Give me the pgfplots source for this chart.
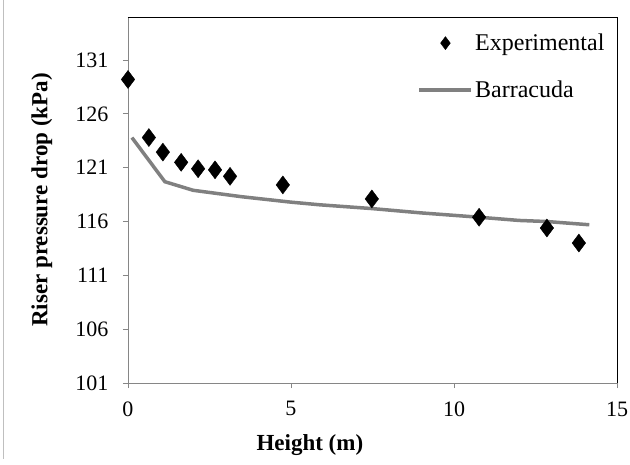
\documentclass[border=0pt]{standalone}
\usepackage{pgfplots}
\pgfplotsset{compat=1.18}
\usepackage{fontspec}
\setmainfont{Liberation Serif}
\definecolor{linegray}{RGB}{128,128,128}
\definecolor{axgray}{RGB}{134,134,134}
\begin{document}
\begin{tikzpicture}
\useasboundingbox (0,0) rectangle (630pt,464pt);
\draw[black!25, line width=0.8pt] (3pt,5pt) -- (3pt,464pt);
\begin{axis}[
  at={(128pt,81pt)}, anchor=south west,
  scale only axis, width=489pt, height=366pt,
  xmin=0, xmax=15, ymin=101, ymax=135,
  xtick={0,5,10,15}, ytick={101,106,111,116,121,126,131},
  axis x line*=bottom, axis y line*=left,
  axis line style={axgray, line width=0.8pt},
  every axis x line/.append style={-}, every axis y line/.append style={-},
  tick align=outside, major tick length=5pt,
  tick style={axgray, line width=0.8pt},
  /pgf/number format/assume math mode=true,
  xticklabel style={font=\fontsize{22}{26}\selectfont, yshift=-10pt},
  yticklabel style={font=\fontsize{22}{26}\selectfont, anchor=east, xshift=-11pt},
  xlabel={\textbf{Height (m)}},
  ylabel={\textbf{Riser pressure drop (kPa)}},
  label style={font=\fontsize{23}{27}\selectfont},
  xlabel style={at={(axis description cs:0.372,-0.169)}, anchor=center},
  ylabel style={at={(axis description cs:-0.176,0.5)}, anchor=center},
  legend style={draw=none, fill=none, at={(rel axis cs:0.985,0.965)}, anchor=north east,
    font=\fontsize{24}{28}\selectfont, row sep=25pt, legend cell align=left},
  clip=false,
]
\addplot[only marks, mark=diamond*, mark size=9pt, black,
  legend image code/.code={\path[draw=none] plot[mark=diamond*, mark size=6.5pt] coordinates {(26pt,0pt)}; \path[draw=none,fill=none] (0pt,0pt) -- (52pt,0pt);}] coordinates {
(0,129.2) (0.64,123.8) (1.07,122.45) (1.63,121.5) (2.15,120.9) (2.67,120.8)
(3.13,120.2) (4.75,119.4) (7.48,118.1) (10.77,116.4) (12.85,115.4) (13.83,114.0)
};
\addlegendentry{Experimental}
\addplot[linegray, line width=3.5pt, no marks,
  legend image code/.code={\draw[linegray, line width=3.5pt] (0pt,0pt) -- (52pt,0pt);}] coordinates {
(0.12,123.8) (1.13,119.7) (2.0,118.9) (3.5,118.3) (5.0,117.8) (5.9,117.55) (7.5,117.2)
(9.0,116.8) (10.77,116.4) (12.0,116.1) (12.85,116.0) (14.15,115.7)
};
\addlegendentry{Barracuda}
\draw[black, line width=0.8pt] (rel axis cs:0,1) -- (rel axis cs:1,1) -- (rel axis cs:1,0);
\end{axis}
\end{tikzpicture}
\end{document}
